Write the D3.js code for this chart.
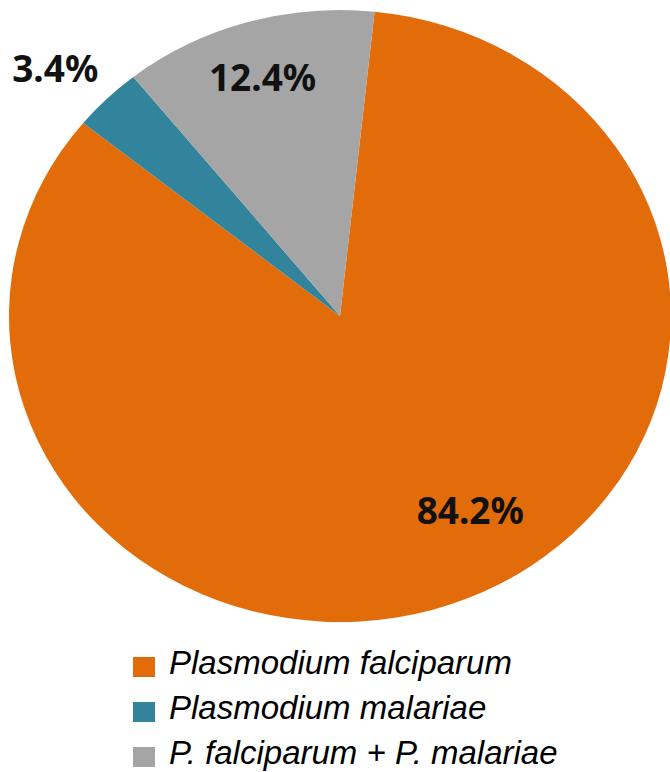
<!DOCTYPE html>
<html>
<head>
<meta charset="utf-8">
<script src="https://cdn.jsdelivr.net/npm/d3@7"></script>
<style>
  html, body { margin: 0; padding: 0; background: #fff; }
  svg { display: block; }
</style>
</head>
<body>
<svg id="chart" width="670" height="772"></svg>
<script>
// ---- data ----
const categories = ["Plasmodium falciparum", "Plasmodium malariae", "P. falciparum + P. malariae"];
const values = [84.2, 3.4, 12.4];
const labels = ["84.2%", "3.4%", "12.4%"];
const colors = ["#E36C0A", "#31849B", "#A5A5A5"];

// ---- layout ----
const W = 670, H = 772;
const cx = 340, cy = 316, rx = 331, ry = 306;
const startDeg = 6;
// label placement: [angle offset from slice mid (deg), radius fraction]
const labelLayout = [[-9.4, 0.746], [-1.9, 1.183], [-0.3, 0.818]];

const svg = d3.select("#chart");

const pie = d3.pie().sort(null).value(d => d)
  .startAngle(startDeg * Math.PI / 180)
  .endAngle((startDeg + 360) * Math.PI / 180);
const arcs = pie(values);

const arc = d3.arc().innerRadius(0).outerRadius(ry);

const g = svg.append("g")
  .attr("transform", `translate(${cx},${cy}) scale(${rx / ry},1)`);

g.selectAll("path")
  .data(arcs)
  .join("path")
  .attr("d", arc)
  .attr("fill", (d, i) => colors[i]);

// labels
svg.append("g").selectAll("text")
  .data(arcs)
  .join("text")
  .attr("x", (d, i) => {
    const a = (d.startAngle + d.endAngle) / 2 + labelLayout[i][0] * Math.PI / 180;
    return cx + Math.sin(a) * rx * labelLayout[i][1];
  })
  .attr("y", (d, i) => {
    const a = (d.startAngle + d.endAngle) / 2 + labelLayout[i][0] * Math.PI / 180;
    return cy - Math.cos(a) * ry * labelLayout[i][1];
  })
  .attr("text-anchor", "middle")
  .attr("dominant-baseline", "central")
  .attr("font-family", "'Noto Sans', sans-serif")
  .attr("font-weight", 700)
  .attr("font-size", 37)
  .attr("fill", "#111")
  .text((d, i) => labels[i]);

// legend
const legendY = d3.scaleBand().domain(categories).range([652, 787]);
const leg = svg.append("g").selectAll("g")
  .data(categories)
  .join("g")
  .attr("transform", d => `translate(133,${legendY(d)})`);

leg.append("rect")
  .attr("x", 0).attr("y", 5)
  .attr("width", 22).attr("height", 20)
  .attr("fill", (d, i) => colors[i]);

leg.append("text")
  .attr("x", 36).attr("y", 22)
  .attr("font-family", "'Liberation Sans', Arial, sans-serif")
  .attr("font-style", "italic")
  .attr("font-size", 33)
  .attr("fill", "#000")
  .text(d => d);
</script>
</body>
</html>
